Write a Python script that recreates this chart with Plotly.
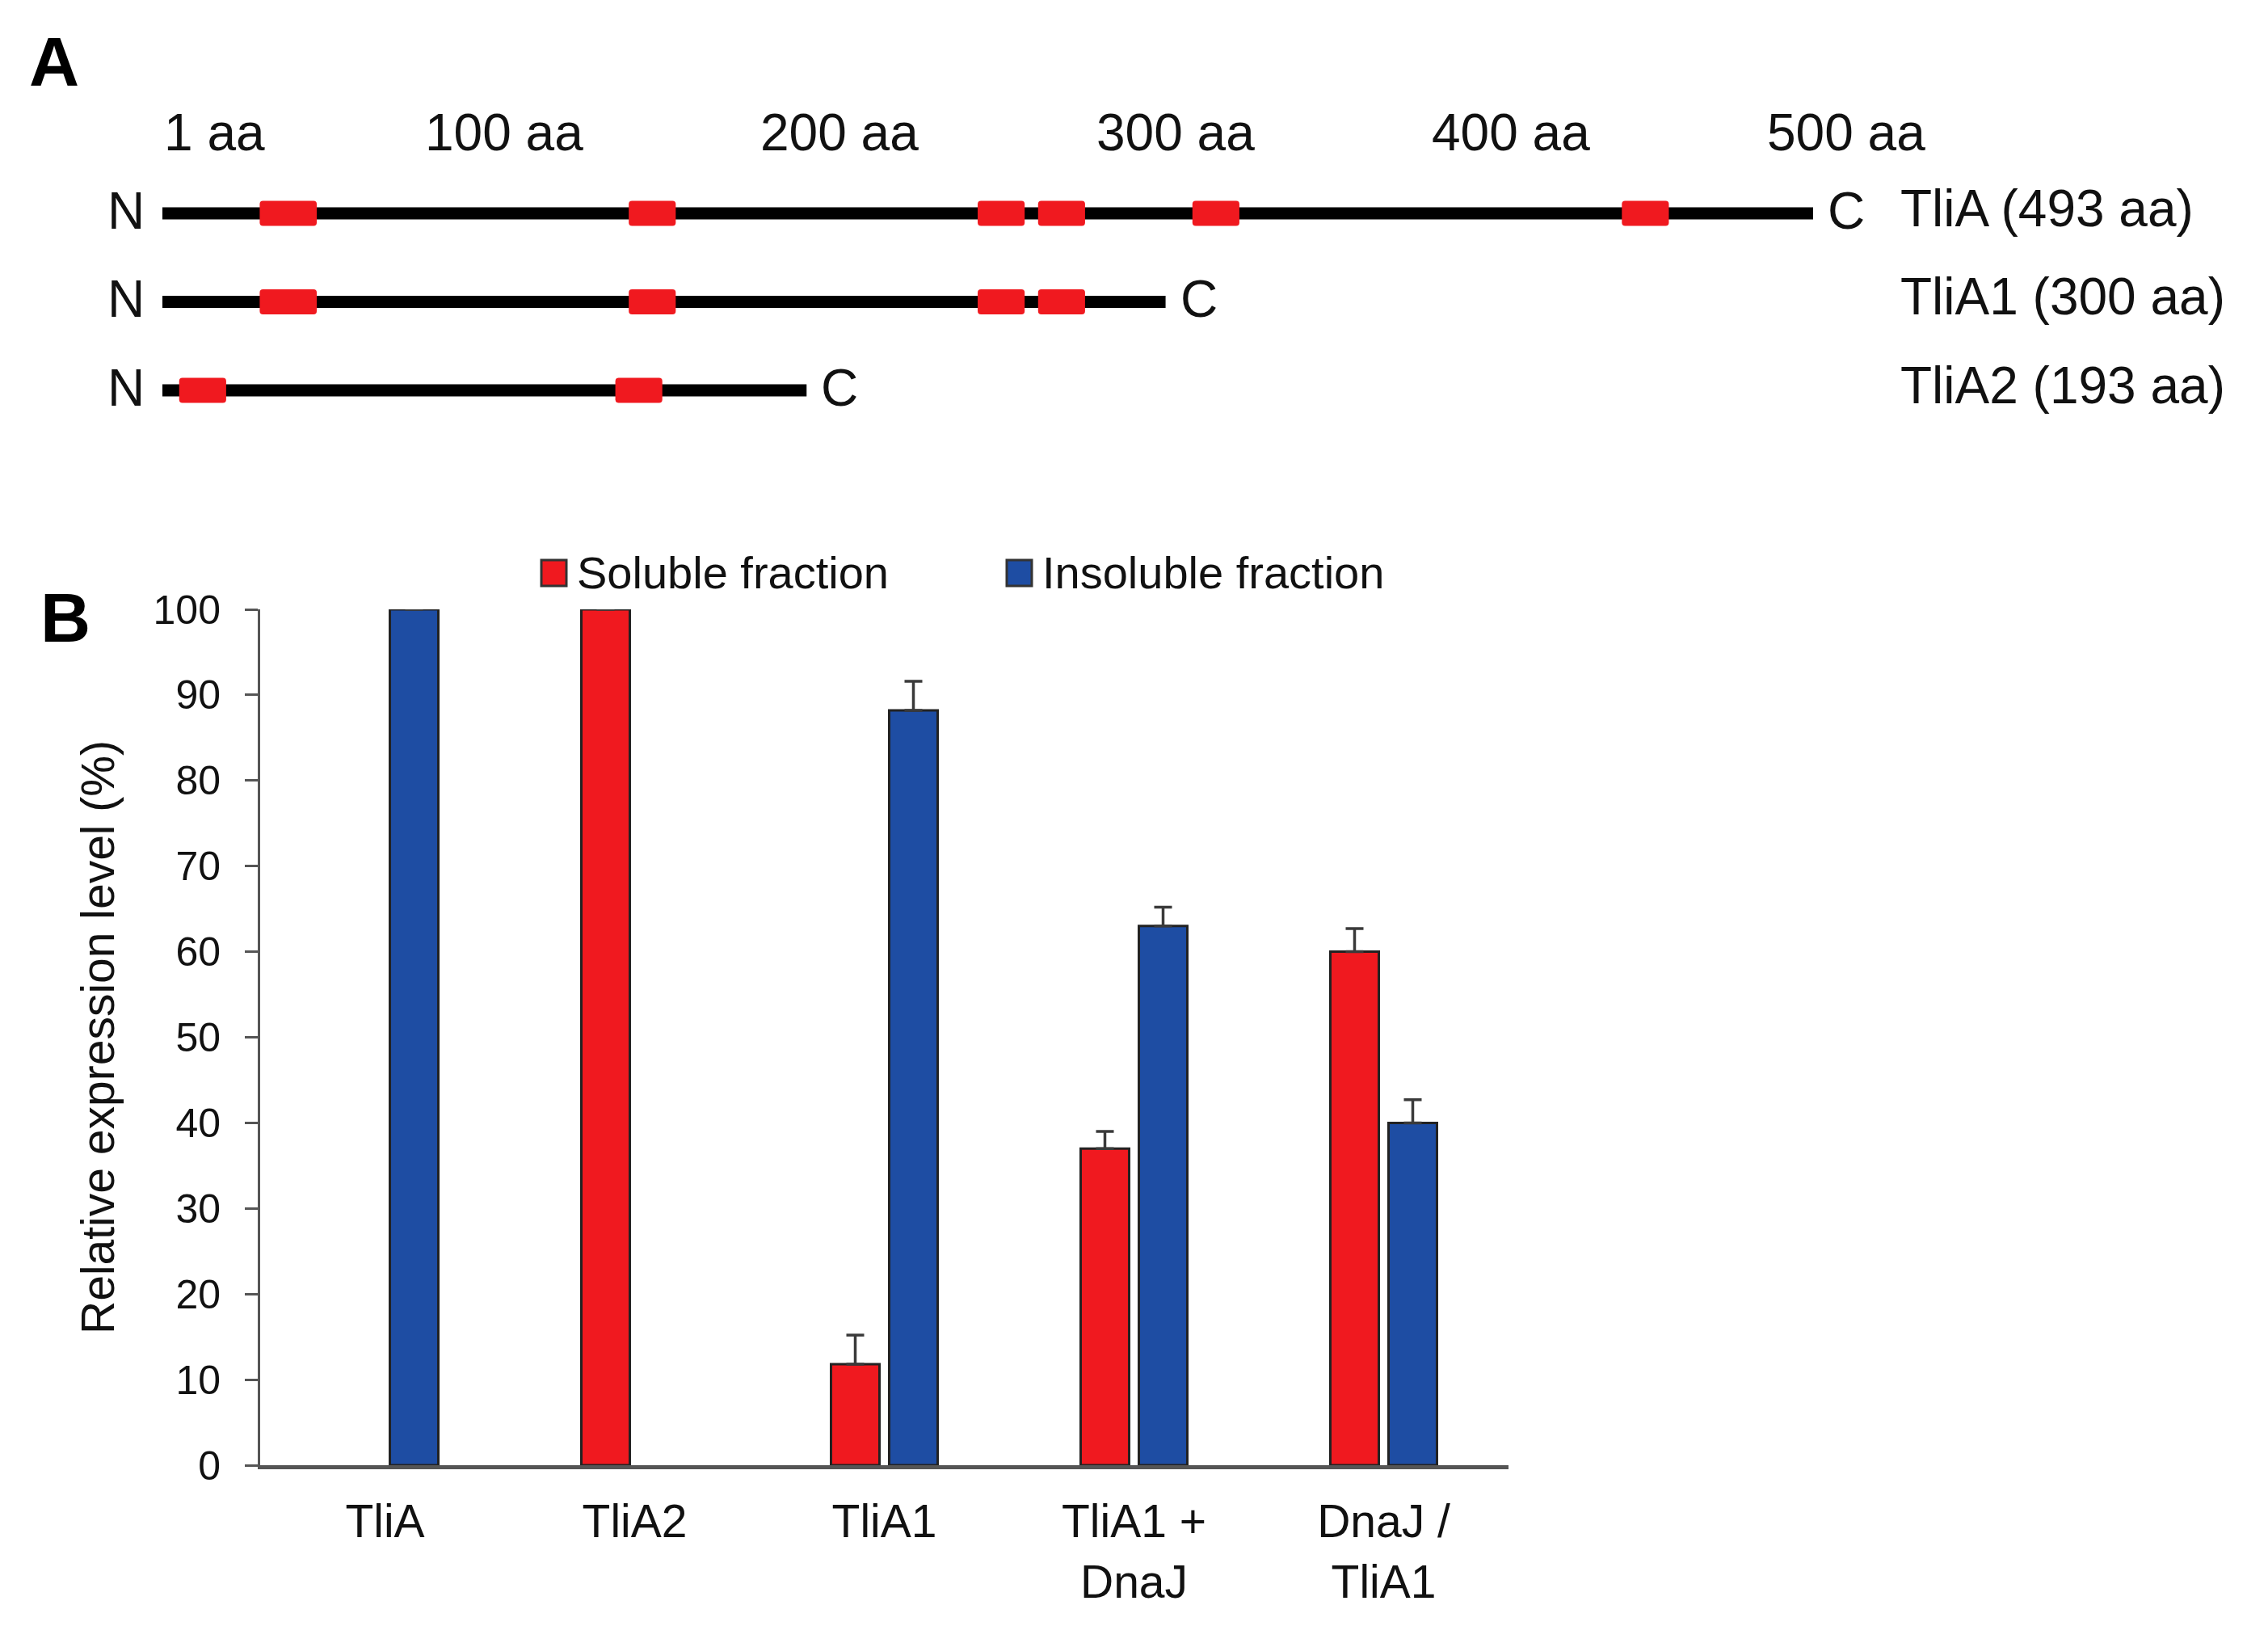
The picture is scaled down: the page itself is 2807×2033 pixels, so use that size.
import plotly.graph_objects as go

W, H = 2807, 2033
FONT = "Liberation Sans, Arial, sans-serif"
RED = "#F0191F"
BLUE = "#1E4DA3"

# ---- panel A: constructs ----
proteins = ["TliA", "TliA1", "TliA2"]
lengths = [493, 300, 193]

motif_protein = ["TliA", "TliA", "TliA", "TliA", "TliA", "TliA",
                 "TliA1", "TliA1", "TliA1", "TliA1",
                 "TliA2", "TliA2"]
motif_start = [30, 140, 244, 262, 308, 436,
               30, 140, 244, 262,
               6, 136]
motif_end = [47, 154, 258, 276, 322, 450,
             47, 154, 258, 276,
             20, 150]

scale_pos = [1, 100, 200, 300, 400, 500]
scale_text = ["1 aa", "100 aa", "200 aa", "300 aa", "400 aa", "500 aa"]

# ---- panel B: expression (None = no band detected) ----
constructs = ["TliA", "TliA2", "TliA1", "TliA1 +<br>DnaJ", "DnaJ /<br>TliA1"]
soluble = [None, 100, 11.8, 37.0, 60.0]
soluble_err = [None, 0, 3.4, 2.0, 2.7]
insoluble = [100, None, 88.2, 63.0, 40.0]
insoluble_err = [0, None, 3.4, 2.2, 2.7]
series_names = ["Soluble fraction", "Insoluble fraction"]

fig = go.Figure()

# construct backbones and motifs (horizontal bars on their own axes)
row_px = 109.5
line_w = 15 / row_px
box_w = 31 / row_px
fig.add_trace(go.Bar(
    y=proteins, x=[L - 1 for L in lengths], base=1, orientation="h",
    width=line_w, offset=-line_w / 2,
    marker=dict(color="black", line=dict(width=0)),
    xaxis="x2", yaxis="y2", showlegend=False, hoverinfo="skip"))
fig.add_trace(go.Bar(
    y=motif_protein, x=[e - s for s, e in zip(motif_start, motif_end)],
    base=motif_start, orientation="h",
    width=box_w, offset=-box_w / 2,
    marker=dict(color=RED, line=dict(width=0), cornerradius=4),
    xaxis="x2", yaxis="y2", showlegend=False, hoverinfo="skip"))

# expression bars
err_style = dict(type="data", symmetric=False, arrayminus=[0] * 5,
                 color="#3a3a3a", thickness=3.5, width=11)
fig.add_trace(go.Bar(
    x=constructs, y=soluble, name=series_names[0],
    marker=dict(color=RED, line=dict(color="#222", width=3)),
    error_y=dict(array=soluble_err, **err_style), showlegend=False))
fig.add_trace(go.Bar(
    x=constructs, y=insoluble, name=series_names[1],
    marker=dict(color=BLUE, line=dict(color="#222", width=3)),
    error_y=dict(array=insoluble_err, **err_style), showlegend=False))

# panel A axis geometry
x0_px, x_end_px = 201, 2244
px_per_aa = (x_end_px - x0_px) / (lengths[0] - 1)
xa_range = [1 - x0_px / px_per_aa, 1 + (W - x0_px) / px_per_aa]
top_row, bot_row = 264, 483
ya_dom = [1 - (bot_row + row_px / 2) / H, 1 - (top_row - row_px / 2) / H]

annotations = []
tf = dict(family=FONT, size=64, color="#111")
for p, t in zip(scale_pos, scale_text):
    annotations.append(dict(
        x=p, y=1 - 164 / H, xref="x2", yref="paper", text=t, showarrow=False,
        xanchor="left" if p == 1 else "center", xshift=0 if p == 1 else 12,
        yanchor="middle", font=tf))
for p, L in zip(proteins, lengths):
    annotations.append(dict(x=1, y=p, xref="x2", yref="y2", text="N",
                            showarrow=False, xanchor="right", xshift=-20,
                            yanchor="middle", yshift=3, font=tf))
    annotations.append(dict(x=L, y=p, xref="x2", yref="y2", text="C",
                            showarrow=False, xanchor="left", xshift=16,
                            yanchor="middle", yshift=3, font=tf))
    annotations.append(dict(x=2350 / W, y=p, xref="paper", yref="y2",
                            text=f"{p} ({L} aa)", showarrow=False,
                            xanchor="left", yanchor="middle", yshift=6, font=tf))

# panel letters
annotations.append(dict(x=34 / W, y=1 - 76 / H, xref="paper", yref="paper",
                        text="<b>A</b>", showarrow=False, xanchor="left",
                        yanchor="middle", font=dict(family=FONT, size=86, color="#000")))
annotations.append(dict(x=48 / W, y=1 - 764 / H, xref="paper", yref="paper",
                        text="<b>B</b>", showarrow=False, xanchor="left",
                        yanchor="middle", font=dict(family=FONT, size=86, color="#000")))

# legend
shapes = []
leg_x = [670, 1246]
for lx, name, col in zip(leg_x, series_names, [RED, BLUE]):
    shapes.append(dict(type="rect", xref="paper", yref="paper",
                       x0=lx / W, x1=(lx + 31) / W, y0=1 - 725 / H, y1=1 - 693 / H,
                       fillcolor=col, line=dict(color="#333", width=3)))
    annotations.append(dict(x=(lx + 42) / W, y=1 - 709 / H, xref="paper", yref="paper",
                            text=name, showarrow=False, xanchor="left", yanchor="middle",
                            font=dict(family=FONT, size=56, color="#111")))

fig.update_layout(
    width=W, height=H, margin=dict(l=0, r=0, t=0, b=0, pad=0),
    paper_bgcolor="white", plot_bgcolor="rgba(0,0,0,0)",
    barmode="group", bargap=0.534, bargroupgap=0.167,
    font=dict(family=FONT, color="#111"),
    xaxis=dict(domain=[322 / W, 1867 / W], anchor="y", type="category",
               showline=True, linecolor="#555", linewidth=5, ticks="",
               showgrid=False, tickfont=dict(size=57), ticklabelstandoff=16,
               automargin=False),
    yaxis=dict(domain=[1 - 1813 / H, 1 - 754 / H], anchor="x", range=[0, 100],
               tickvals=list(range(0, 101, 10)), ticks="outside", ticklen=16,
               tickwidth=3, tickcolor="#555", showline=True, linecolor="#555",
               linewidth=3, showgrid=False, zeroline=False,
               tickfont=dict(size=50), ticklabelstandoff=20, automargin=False,
               title=dict(text="Relative expression level (%)",
                          font=dict(size=57), standoff=30)),
    xaxis2=dict(domain=[0, 1], anchor="y2", range=xa_range, visible=False,
                automargin=False),
    yaxis2=dict(domain=ya_dom, anchor="x2", type="category",
                categoryorder="array", categoryarray=proteins,
                range=[2.5, -0.5], visible=False, automargin=False),
    annotations=annotations, shapes=shapes,
)

fig.write_html("out.html", config={"displayModeBar": False},
               post_script="document.body.style.margin='0';")
